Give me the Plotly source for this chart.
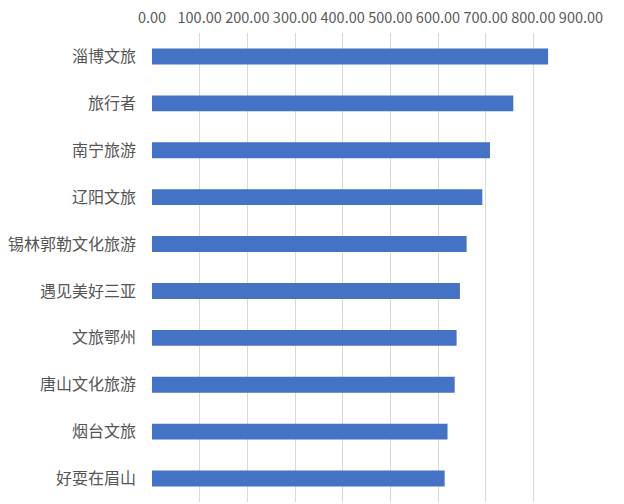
import plotly.graph_objects as go

# accounts, top to bottom as shown
accounts = ["淄博文旅", "旅行者", "南宁旅游", "辽阳文旅", "锡林郭勒文化旅游",
            "遇见美好三亚", "文旅鄂州", "唐山文化旅游", "烟台文旅", "好耍在眉山"]
scores = [831, 758, 709, 693, 660, 646, 639, 635, 620, 614]
tick_vals = [0, 100, 200, 300, 400, 500, 600, 700, 800, 900]

FONT = "Noto Sans CJK SC"

fig = go.Figure(go.Bar(
    x=scores,
    y=accounts,
    orientation="h",
    marker=dict(color="#4472C4", line=dict(width=0)),
    width=0.34,
))

fig.update_layout(
    width=624,
    height=504,
    margin=dict(l=152, r=43, t=33, b=2),
    paper_bgcolor="white",
    plot_bgcolor="white",
    showlegend=False,
    font=dict(family=FONT, color="#595959"),
)

fig.update_xaxes(
    side="top",
    range=[0, 900],
    tickvals=tick_vals,
    tickformat=".2f",
    tickfont=dict(size=14.5, color="#595959", family=FONT),
    showgrid=True,
    gridcolor="#d9d9d9",
    gridwidth=1,
    zeroline=False,
    showline=False,
    ticks="",
    ticklabelstandoff=6,
    automargin=False,
    fixedrange=True,
)

fig.update_yaxes(
    categoryorder="array",
    categoryarray=accounts[::-1],
    tickfont=dict(size=16, color="#555555", family=FONT),
    showgrid=False,
    zeroline=False,
    showline=False,
    ticks="",
    ticklabelstandoff=15,
    automargin=False,
    fixedrange=True,
)

# drop the default 8px page margin so the figure fills the window exactly
fig.write_html("out.html", config={"displayModeBar": False},
               post_script="document.body.style.margin='0';")
